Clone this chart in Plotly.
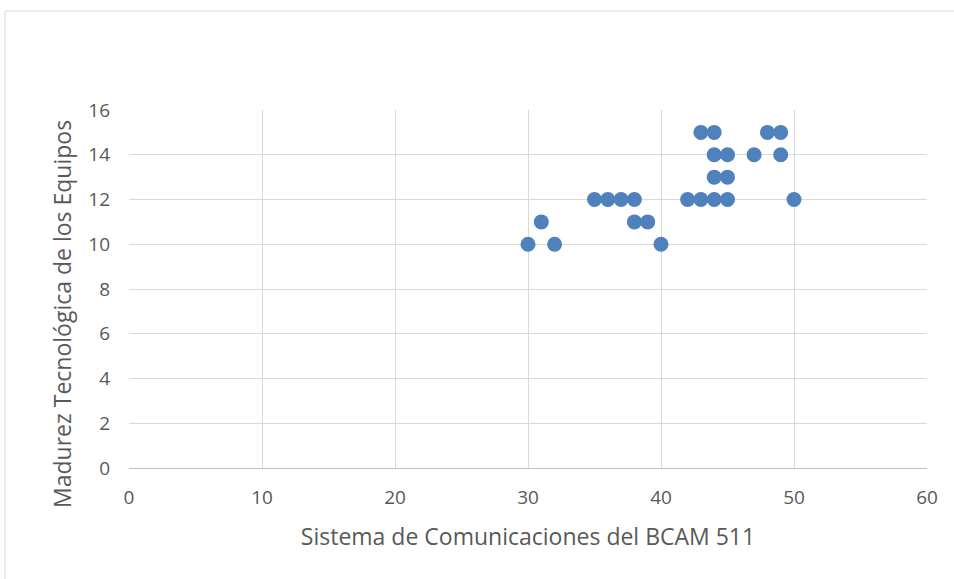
import plotly.graph_objects as go

x_vals = [30, 31, 32, 35, 36, 37, 38, 38, 39, 40, 42, 43, 44, 45, 44, 45, 44, 45, 43, 44, 47, 48, 49, 49, 50]
y_vals = [10, 11, 10, 12, 12, 12, 12, 11, 11, 10, 12, 12, 12, 12, 13, 13, 14, 14, 15, 15, 14, 15, 15, 14, 12]

x_title = "Sistema de Comunicaciones del BCAM 511"
y_title = "Madurez Tecnológica de los Equipos"

W, H = 954, 579
L, R, T, B = 129, 27, 110, 111
pw = W - L - R
ph = H - T - B

fig = go.Figure(go.Scatter(
    x=x_vals, y=y_vals, mode="markers",
    marker=dict(size=15, color="#4f81bd", line=dict(width=0)),
    hoverinfo="x+y"
))

font_family = "'Open Sans', sans-serif"
fig.update_layout(
    width=W, height=H,
    margin=dict(l=L, r=R, t=T, b=B),
    paper_bgcolor="white", plot_bgcolor="white",
    showlegend=False,
    font=dict(family=font_family, color="#595959", size=19),
    xaxis=dict(range=[0, 60], dtick=10, showgrid=True, gridcolor="#d9d9d9", gridwidth=1,
               zeroline=False, showline=True, linecolor="#bfbfbf", linewidth=1,
               ticks="", tickfont=dict(size=19, color="#595959"), ticklabelstandoff=12,
               title=dict(text=x_title, font=dict(size=23, color="#595959"), standoff=20)),
    yaxis=dict(range=[0, 16], dtick=2, showgrid=True, gridcolor="#d9d9d9", gridwidth=1,
               zeroline=False, showline=False, ticks="",
               tickfont=dict(size=19, color="#595959"), ticklabelstandoff=18),
    annotations=[dict(text=y_title, textangle=-90, xref="paper", yref="paper",
                      x=(62 - L) / pw, y=(H - B - 314) / ph, xanchor="center", yanchor="middle",
                      showarrow=False, font=dict(size=23, color="#595959"))],
    shapes=[dict(type="rect", xref="paper", yref="paper",
                 x0=(5 - L) / pw, x1=(W + 10 - L) / pw,
                 y0=(H - B - (H + 10)) / ph, y1=(H - B - 11) / ph,
                 line=dict(color="#d9d9d9", width=1), fillcolor="rgba(0,0,0,0)", layer="below")],
)

fig.write_html("out.html", config={"displayModeBar": False},
               post_script="document.body.style.margin='0px';")
